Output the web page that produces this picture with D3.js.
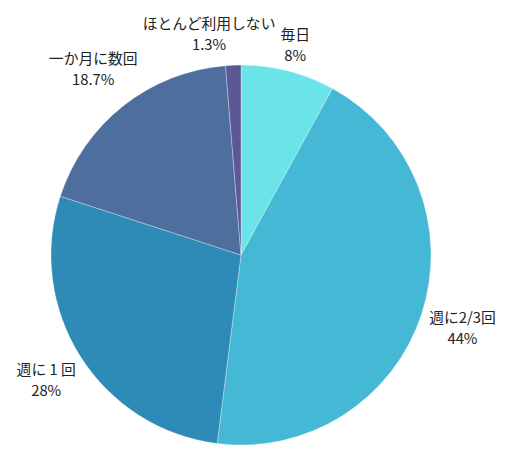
<!DOCTYPE html>
<html>
<head>
<meta charset="utf-8">
<script src="https://cdn.jsdelivr.net/npm/d3@7"></script>
<style>
  body { margin: 0; background: #fff; }
  text { font-family: "Noto Sans CJK JP", "Noto Sans", sans-serif; fill: #222; }
</style>
</head>
<body>
<div id="chart"></div>
<script>
// data, clockwise from 12 o'clock
const categories = ['毎日', '週に2/3回', '週に 1 回', '一か月に数回', 'ほとんど利用しない'];
const values = [8, 44, 28, 18.7, 1.3];
const valueLabels = ['8%', '44%', '28%', '18.7%', '1.3%'];
const colors = ['#6ae4e8', '#45b8d6', '#2e8bb8', '#4e6e9e', '#5c5896'];

const width = 516, height = 461;
const cx = 241, cy = 255, radius = 190;
const labelGap = 5;

const svg = d3.select('#chart').append('svg')
    .attr('width', width)
    .attr('height', height);

const g = svg.append('g')
    .attr('transform', 'translate(' + cx + ',' + cy + ')');

const pie = d3.pie().sort(null).value(d => d);
const arcs = pie(values);

const arc = d3.arc().innerRadius(0).outerRadius(radius);

g.selectAll('.slice')
    .data(arcs).enter()
    .append('path')
    .attr('class', 'slice')
    .attr('d', arc)
    .attr('fill', (d, i) => colors[i])
    .attr('stroke', 'rgba(255,255,255,0.5)')
    .attr('stroke-width', 0.6);

const labels = g.selectAll('.label')
    .data(arcs).enter()
    .append('text')
    .attr('class', 'label')
    .attr('text-anchor', 'middle')
    .attr('font-size', 14.8);

labels.append('tspan')
    .attr('x', 0)
    .attr('y', -10.5)
    .attr('dominant-baseline', 'central')
    .text((d, i) => categories[i]);

labels.append('tspan')
    .attr('x', 0)
    .attr('y', 10.5)
    .attr('dominant-baseline', 'central')
    .text((d, i) => valueLabels[i]);

//  Put each label box just outside the pie, along the slice's mid angle
const boxes = [];
labels.each(function (d) {
    const bb = this.getBBox();
    const a = (d.startAngle + d.endAngle) / 2;
    const sx = Math.sin(a), sy = -Math.cos(a);
    const ext = Math.abs(sx) * bb.width / 2 + Math.abs(sy) * 20;
    const dist = radius + labelGap + ext;
    boxes.push({ node: this, x: sx * dist, y: sy * dist, w: bb.width, h: 40 });
});

//  Push overlapping labels apart sideways (the small last slice sits next to the first)
for (let i = 0; i < boxes.length; i++) {
    for (let j = i + 1; j < boxes.length; j++) {
        const a = boxes[i], b = boxes[j];
        const ox = (a.w + b.w) / 2 + labelGap - Math.abs(a.x - b.x);
        const oy = (a.h + b.h) / 2 - Math.abs(a.y - b.y);
        if (ox > 0 && oy > 0) {
            if (b.x < a.x) { b.x -= ox; b.y -= 4; } else { a.x -= ox; a.y -= 4; }
        }
    }
}

boxes.forEach(b => {
    d3.select(b.node).attr('transform', 'translate(' + b.x + ',' + b.y + ')');
});
</script>
</body>
</html>
